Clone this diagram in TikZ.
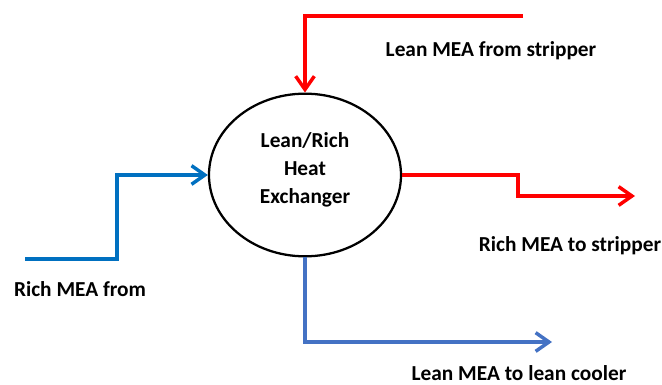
\documentclass[tikz,border=0pt]{standalone}
\usepackage{fontspec}
\setmainfont{Carlito}
\usetikzlibrary{shapes.geometric,arrows.meta}
\definecolor{flowred}{RGB}{255,0,0}
\definecolor{richblue}{RGB}{0,112,192}
\definecolor{leanblue}{RGB}{68,114,196}
\begin{document}
\begin{tikzpicture}[x=0.75pt,y=-0.75pt,
  flow/.style={line width=2.6pt, -{Straight Barb[length=10pt,width=14pt]}},
  lbl/.style={font=\bfseries\fontsize{16}{21}\selectfont, inner sep=0pt, align=center},
  unit/.style={draw, ellipse, line width=1.7pt, minimum width=144pt, minimum height=122pt, inner sep=0pt}]
\useasboundingbox (0,0) rectangle (662,385);
\node[unit] (hx) at (305,175) {};
\node[lbl] (hxlabel) at (305,170) {Lean/Rich\\Heat\\Exchanger};

\coordinate (lsrc) at (523,16);
\coordinate (rstep) at (518,196);
\coordinate (rtip) at (635,196);
\coordinate (bsrc) at (25,259);
\coordinate (bstep) at (117,175);
\coordinate (ltip) at (552,342);

\draw[flow, flowred] (lsrc) -| (hx.north);
\draw[flow, flowred] (hx.east) -| (rstep) -- (rtip);
\draw[flow, richblue] (bsrc) -| (bstep) -- (hx.west);
\draw[flow, leanblue] (hx.south) |- (ltip);

\node[lbl, anchor=base] (t1) at (491,57) {Lean MEA from stripper};
\node[lbl, anchor=base] (t2) at (570,252) {Rich MEA to stripper};
\node[lbl, anchor=base] (t3) at (80,297) {Rich MEA from};
\node[lbl, anchor=base] (t4) at (519,381) {Lean MEA to lean cooler};
\end{tikzpicture}
\end{document}
